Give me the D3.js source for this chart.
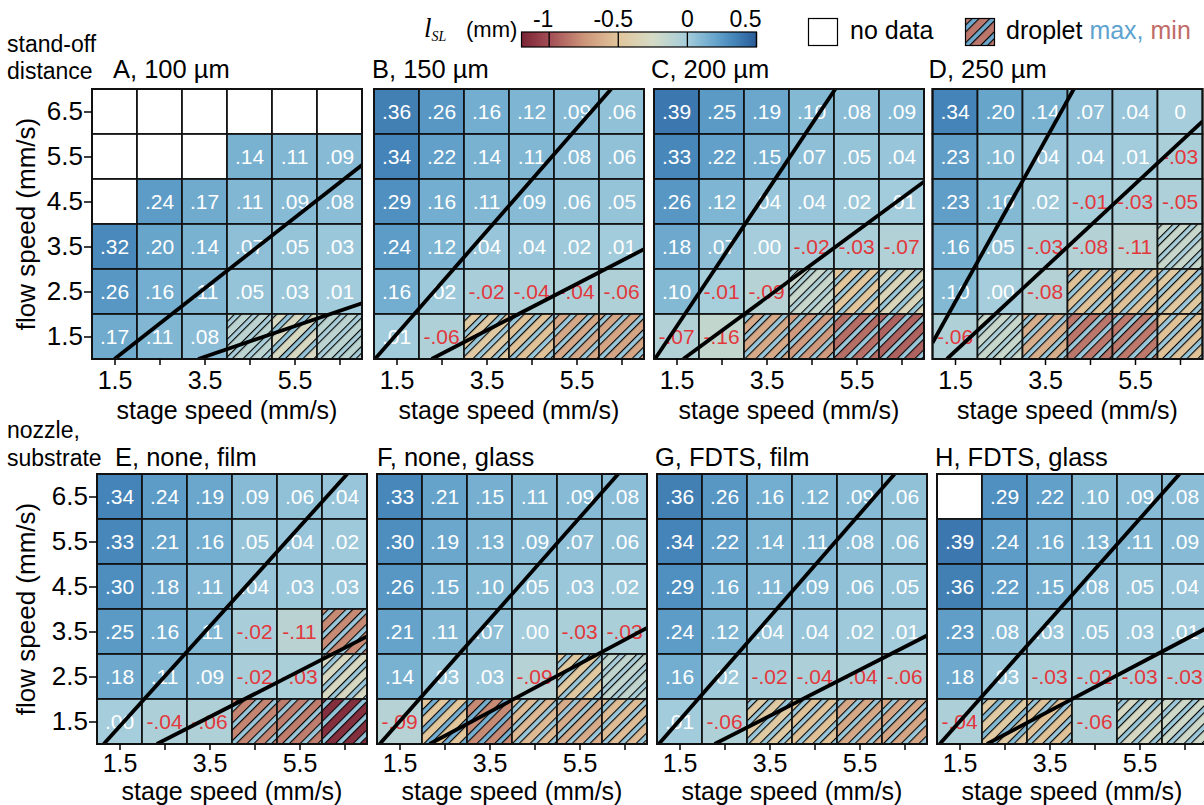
<!DOCTYPE html>
<html><head><meta charset="utf-8">
<script src="https://cdn.jsdelivr.net/npm/d3@7"></script>
<style>body{margin:0;background:#fff} svg{display:block} text{font-family:"Liberation Sans",Arial,Helvetica,sans-serif}</style>
</head><body><svg id="c" width="1204" height="805"></svg>
<script>
// ---------- data ----------
const stageSpeeds = [1.5,2.5,3.5,4.5,5.5,6.5];
const flowSpeeds = [6.5,5.5,4.5,3.5,2.5,1.5]; // rows, top to bottom
const xTickLabels = ["1.5","","3.5","","5.5",""];
const yTickLabels = ["6.5","5.5","4.5","3.5","2.5","1.5"];
const panelTitles = ["A, 100 µm","B, 150 µm","C, 200 µm","D, 250 µm","E, none, film","F, none, glass","G, FDTS, film","H, FDTS, glass"];
const colorTicks = [-1,-0.5,0,0.5];
const colorTickLabels = ["-1","-0.5","0","0.5"];
const colorDomain = [-1.2,-1,-0.75,-0.5,-0.25,0,0.1,0.2,0.3,0.4,0.5];
const colorRange = ["#7a2535","#a24c55","#cc9479","#e2c69c","#d4dbc6","#a5cddc","#84b9d4","#68a5cb","#4d8ebf","#3a76ad","#2b5b98"];

// cell labels (value = label parsed); null = no data, "H" = droplet (see droplet arrays)
const valuesA = [
 [null,null,null,null,null,null],
 [null,null,null,".14",".11",".09"],
 [null,".24",".17",".11",".09",".08"],
 [".32",".20",".14",".07",".05",".03"],
 [".26",".16",".11",".05",".03",".01"],
 [".17",".11",".08","H","H","H"]];
const valuesB = [
 [".36",".26",".16",".12",".09",".06"],
 [".34",".22",".14",".11",".08",".06"],
 [".29",".16",".11",".09",".06",".05"],
 [".24",".12",".04",".04",".02",".01"],
 [".16",".02","-.02","-.04","-.04","-.06"],
 [".01","-.06","H","H","H","H"]];
const valuesC = [
 [".39",".25",".19",".10",".08",".09"],
 [".33",".22",".15",".07",".05",".04"],
 [".26",".12",".04",".04",".02",".01"],
 [".18",".07",".00","-.02","-.03","-.07"],
 [".10","-.01","-.09","H","H","H"],
 ["-.07","-.16","H","H","H","H"]];
const valuesD = [
 [".34",".20",".14",".07",".04","0"],
 [".23",".10",".04",".04",".01","-.03"],
 [".23",".10",".02","-.01","-.03","-.05"],
 [".16",".05","-.03","-.08","-.11","H"],
 [".10",".00","-.08","H","H","H"],
 ["-.06","H","H","H","H","H"]];
const valuesE = [
 [".34",".24",".19",".09",".06",".04"],
 [".33",".21",".16",".05",".04",".02"],
 [".30",".18",".11",".04",".03",".03"],
 [".25",".16",".11","-.02","-.11","H"],
 [".18",".11",".09","-.02","-.03","H"],
 [".00","-.04","-.06","H","H","H"]];
const valuesF = [
 [".33",".21",".15",".11",".09",".08"],
 [".30",".19",".13",".09",".07",".06"],
 [".26",".15",".10",".05",".03",".02"],
 [".21",".11",".07",".00","-.03","-.03"],
 [".14",".03",".03","-.09","H","H"],
 ["-.09","H","H","H","H","H"]];
const valuesG = [
 [".36",".26",".16",".12",".09",".06"],
 [".34",".22",".14",".11",".08",".06"],
 [".29",".16",".11",".09",".06",".05"],
 [".24",".12",".04",".04",".02",".01"],
 [".16",".02","-.02","-.04","-.04","-.06"],
 [".01","-.06","H","H","H","H"]];
const valuesH = [
 [null,".29",".22",".10",".09",".08"],
 [".39",".24",".16",".13",".11",".09"],
 [".36",".22",".15",".08",".05",".04"],
 [".23",".08",".03",".05",".03",".01"],
 [".18",".03","-.03","-.02","-.03","-.03"],
 ["-.04","H","H","-.06","H","H"]];

// droplet cells: [stage, flow, max, min]
const dropletA = [[4.5,1.5,-0.02,-0.12],[5.5,1.5,0.05,-0.28],[6.5,1.5,-0.02,-0.12]];
const dropletB = [[3.5,1.5,0.03,-0.45],[4.5,1.5,0.03,-0.52],[5.5,1.5,0.03,-0.65],[6.5,1.5,0.03,-0.66]];
const dropletC = [[4.5,2.5,-0.06,-0.18],[5.5,2.5,0.03,-0.50],[6.5,2.5,0.03,-0.32],
                  [3.5,1.5,0.03,-0.64],[4.5,1.5,0.03,-0.72],[5.5,1.5,0.03,-0.88],[6.5,1.5,0.03,-0.92]];
const dropletD = [[6.5,3.5,-0.02,-0.18],[4.5,2.5,0.03,-0.52],[5.5,2.5,0.03,-0.52],[6.5,2.5,0.03,-0.47],
                  [2.5,1.5,-0.04,-0.18],[3.5,1.5,0.03,-0.62],[4.5,1.5,0.03,-0.85],[5.5,1.5,0.03,-0.84],[6.5,1.5,0.03,-0.52]];
const dropletE = [[6.5,3.5,0.03,-0.78],[6.5,2.5,0.03,-0.28],[4.5,1.5,0.03,-0.80],[5.5,1.5,0.03,-0.83],[6.5,1.5,0.05,-1.15]];
const dropletF = [[5.5,2.5,0.03,-0.47],[6.5,2.5,-0.02,-0.15],[2.5,1.5,0.15,-0.50],[3.5,1.5,0.15,-0.78],
                  [4.5,1.5,0.03,-0.56],[5.5,1.5,0.03,-0.63],[6.5,1.5,0.03,-0.55]];
const dropletG = [[3.5,1.5,0.03,-0.45],[4.5,1.5,0.03,-0.52],[5.5,1.5,0.03,-0.65],[6.5,1.5,0.03,-0.66]];
const dropletH = [[2.5,1.5,0.10,-0.45],[3.5,1.5,0.04,-0.52],[5.5,1.5,0.03,-0.27],[6.5,1.5,0.02,-0.22]];

// boundary lines: [x1,y1,x2,y2] in (stage, flow) units
const linesA = [[1.5,1,7,5.31],[3.36,1,7,2.24]];
const linesB = [[1.02,1,6.27,7],[2.28,1,7,3.44]];
const linesC = [[1.02,1,5.03,7],[1.65,1,7,4.94]];
const linesD = [[1,1.36,4.14,7],[1.32,1,7,6.28]];
const linesE = [[1.15,1,6.56,7],[2.33,1,7,3.39]];
const linesF = [[1.06,1,6.36,7],[2.17,1,7,3.58]];
const linesG = [[1.04,1,6.28,7],[2.28,1,7,3.41]];
const linesH = [[1.06,1,6.39,7],[2.11,1,7,3.58]];

// ---------- drawing ----------
const svg = d3.select("#c");
const defs = svg.append("defs");
const color = d3.scaleLinear().domain(colorDomain).range(colorRange).clamp(true);
const FONT = '"Liberation Sans",Arial,Helvetica,sans-serif';
const GRID = 270;

const panels = [
 {t:panelTitles[0], v:valuesA, d:dropletA, l:linesA, left:92, top:89, yAxis:true, tx:21, tk:12, tt:60},
 {t:panelTitles[1], v:valuesB, d:dropletB, l:linesB, left:374, top:89, tx:-2, tk:12, tt:60},
 {t:panelTitles[2], v:valuesC, d:dropletC, l:linesC, left:654, top:89, tx:-3, tk:12, tt:60},
 {t:panelTitles[3], v:valuesD, d:dropletD, l:linesD, left:932.5, top:89, tx:-4, tk:12, tt:60},
 {t:panelTitles[4], v:valuesE, d:dropletE, l:linesE, left:97, top:474, yAxis:true, tx:18, tk:10, tt:56},
 {t:panelTitles[5], v:valuesF, d:dropletF, l:linesF, left:377, top:474, tx:0, tk:10, tt:56},
 {t:panelTitles[6], v:valuesG, d:dropletG, l:linesG, left:657, top:474, tx:-2, tk:10, tt:56},
 {t:panelTitles[7], v:valuesH, d:dropletH, l:linesH, left:937, top:474, tx:-2, tk:10, tt:56}
];

let patId = 0;
function makePattern(maxV, minV){
  const id = "pat"+(patId++);
  const P = 12.5, W = 5.4;
  const p = defs.append("pattern").attr("id",id).attr("patternUnits","userSpaceOnUse")
    .attr("width",P).attr("height",P).attr("patternTransform","rotate(45)");
  p.append("rect").attr("width",P).attr("height",P).attr("fill",color(minV));
  p.append("rect").attr("x",0).attr("width",W).attr("height",P).attr("fill",color(maxV));
  p.append("line").attr("x1",0.55).attr("x2",0.55).attr("y1",0).attr("y2",P).attr("stroke","#000").attr("stroke-width",1.1);
  p.append("line").attr("x1",W).attr("x2",W).attr("y1",0).attr("y2",P).attr("stroke","#000").attr("stroke-width",1.1);
  return "url(#"+id+")";
}

panels.forEach((pn, pi) => {
  const x = d3.scaleLinear().domain([1,7]).range([pn.left, pn.left+GRID]);
  const y = d3.scaleLinear().domain([1,7]).range([pn.top+GRID, pn.top]);
  const g = svg.append("g");
  const cells = [];
  pn.v.forEach((row, r) => row.forEach((s, c) => {
    cells.push({stage: stageSpeeds[c], flow: flowSpeeds[r], s});
  }));
  cells.forEach(cd => {
    let fill = "#fff";
    if (cd.s === "H") {
      const dd = pn.d.find(q => q[0]===cd.stage && q[1]===cd.flow);
      fill = dd ? makePattern(dd[2], dd[3]) : "#fff";
    } else if (cd.s !== null) fill = color(+cd.s);
    g.append("rect")
      .attr("x", x(cd.stage-0.5)).attr("y", y(cd.flow+0.5))
      .attr("width", x(cd.stage+0.5)-x(cd.stage-0.5)).attr("height", y(cd.flow-0.5)-y(cd.flow+0.5))
      .attr("fill", fill).attr("stroke","#111").attr("stroke-width",1.7);
  });
  cells.filter(cd => cd.s !== null && cd.s !== "H").forEach(cd => {
    g.append("text").attr("x", x(cd.stage)).attr("y", y(cd.flow)+7.5)
      .attr("text-anchor","middle").attr("font-size",21)
      .attr("fill", (+cd.s < 0) ? "#e2383c" : "#fff").text(cd.s);
  });
  const cid = "clip"+pi;
  defs.append("clipPath").attr("id",cid).append("rect")
    .attr("x",pn.left).attr("y",pn.top).attr("width",GRID).attr("height",GRID);
  g.append("g").attr("clip-path","url(#"+cid+")").selectAll("line").data(pn.l).join("line")
    .attr("x1",d=>x(d[0])).attr("y1",d=>y(d[1])).attr("x2",d=>x(d[2])).attr("y2",d=>y(d[3]))
    .attr("stroke","#000").attr("stroke-width",3.8);
  g.append("rect").attr("x",pn.left).attr("y",pn.top).attr("width",GRID).attr("height",GRID)
    .attr("fill","none").attr("stroke","#111").attr("stroke-width",2);
  // x axis
  const xa = g.append("g").attr("transform",`translate(0,${pn.top+GRID})`)
    .call(d3.axisBottom(x).tickValues(stageSpeeds).tickFormat((d,i)=>xTickLabels[i]).tickSize(6).tickSizeOuter(0));
  xa.select(".domain").remove();
  xa.selectAll("line").attr("stroke","#000").attr("stroke-width",1.5);
  xa.selectAll("text").attr("font-size",25).attr("font-family",FONT).attr("fill","#000").attr("y",pn.tk);
  g.append("text").attr("x", pn.left+GRID/2).attr("y", pn.top+GRID+pn.tt)
    .attr("text-anchor","middle").attr("font-size",25).text("stage speed (mm/s)");
  // y axis
  const ya = g.append("g").attr("transform",`translate(${pn.left},0)`)
    .call(d3.axisLeft(y).tickValues(flowSpeeds).tickFormat((d,i)=>pn.yAxis?yTickLabels[i]:"").tickSize(pn.yAxis?8:0).tickSizeOuter(0));
  ya.select(".domain").remove();
  ya.selectAll("line").attr("stroke","#000").attr("stroke-width",1.5);
  ya.selectAll("text").attr("font-size",26).attr("font-family",FONT).attr("fill","#000").attr("x",-9);
  if (pn.yAxis) {
    g.append("text").attr("transform",`translate(35,${pn.top+GRID/2}) rotate(-90)`)
      .attr("text-anchor","middle").attr("font-size",26).text("flow speed (mm/s)");
  }
  g.append("text").attr("x", pn.left + pn.tx).attr("y", pn.top-(pi<4?11:8))
    .attr("font-size",25.5).text(pn.t);
});

// row captions
svg.append("text").attr("x",7).attr("y",52).attr("font-size",23).text("stand-off");
svg.append("text").attr("x",7).attr("y",79).attr("font-size",23).text("distance");
svg.append("text").attr("x",7).attr("y",438).attr("font-size",23).text("nozzle,");
svg.append("text").attr("x",7).attr("y",466).attr("font-size",23).text("substrate");

// colorbar
const cbx = d3.scaleLinear().domain([-1.2,0.5]).range([521.5,756.5]);
const cbLabelShift = [-6, -5, 0, -11];
const grad = defs.append("linearGradient").attr("id","cbgrad").attr("x1","0%").attr("x2","100%");
d3.range(0,1.0001,0.02).forEach(t => {
  grad.append("stop").attr("offset",(t*100)+"%").attr("stop-color",color(-1.2+1.7*t));
});
svg.append("rect").attr("x",cbx(-1.2)).attr("y",32).attr("width",cbx(0.5)-cbx(-1.2)).attr("height",15)
  .attr("fill","url(#cbgrad)").attr("stroke","#000").attr("stroke-width",1.2);
svg.selectAll(".cbt").data(colorTicks).join("line").attr("class","cbt")
  .attr("x1",d=>cbx(d)).attr("x2",d=>cbx(d)).attr("y1",32).attr("y2",47).attr("stroke","#000").attr("stroke-width",1.3);
svg.selectAll(".cbl").data(colorTicks).join("text").attr("class","cbl")
  .attr("x",(d,i)=>cbx(d)+cbLabelShift[i]).attr("y",27).attr("text-anchor","middle").attr("font-size",23).text((d,i)=>colorTickLabels[i]);
const cbt = svg.append("text").attr("x",424).attr("y",37).attr("font-size",22);
cbt.append("tspan").attr("font-family","'Liberation Serif','DejaVu Serif',serif").attr("font-style","italic").attr("font-size",27).text("l");
cbt.append("tspan").attr("font-family","'Liberation Serif',serif").attr("font-style","italic").attr("font-size",14).attr("dy",4).text("SL");
cbt.append("tspan").attr("x",466).attr("dy",-4).text("(mm)");

// legend
svg.append("rect").attr("x",808.5).attr("y",18.5).attr("width",29).attr("height",27).attr("fill","#fff").attr("stroke","#000").attr("stroke-width",1.2);
svg.append("text").attr("x",850).attr("y",39).attr("font-size",25).text("no data");
svg.append("rect").attr("x",965.5).attr("y",18.5).attr("width",29).attr("height",27).attr("fill",makePattern(0.18,-0.85)).attr("stroke","#000").attr("stroke-width",1.2);
const lt = svg.append("text").attr("x",1006).attr("y",39).attr("font-size",25);
lt.append("tspan").attr("fill","#000").text("droplet ");
lt.append("tspan").attr("fill","#5ea3cf").text("max, ");
lt.append("tspan").attr("fill","#c06c66").text("min");
</script></body></html>
